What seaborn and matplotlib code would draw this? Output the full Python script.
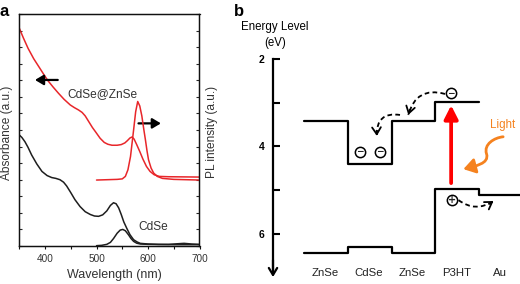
import matplotlib
matplotlib.use("Agg")
import numpy as np
import matplotlib.pyplot as plt
import seaborn as sns
from matplotlib.ticker import MultipleLocator, NullFormatter, FixedLocator
from matplotlib.patches import FancyArrowPatch, PathPatch
from matplotlib.path import Path

# ---------------- Panel a data ----------------
wl_cdse_abs = [350, 355, 361, 367, 374, 384, 394, 404, 413, 421, 429, 436, 442, 450, 458, 468,
               478, 488, 496, 504, 512, 520, 527, 533, 538, 543, 548, 553, 559, 565, 572, 579,
               585, 600, 620, 640, 655, 670, 685, 700]
abs_cdse = [6.70, 6.55, 6.29, 5.95, 5.49, 4.95, 4.50, 4.25, 4.13, 4.08, 4.00, 3.85, 3.62, 3.22,
            2.80, 2.38, 2.07, 1.90, 1.81, 1.79, 1.88, 2.12, 2.45, 2.61, 2.55, 2.30, 1.90, 1.45,
            1.05, 0.68, 0.38, 0.24, 0.16, 0.12, 0.10, 0.10, 0.13, 0.16, 0.12, 0.10]

wl_cdse_pl = [500, 510, 520, 527, 533, 540, 546, 551, 556, 562, 567, 572, 578, 585, 600, 620,
              650, 700]
pl_cdse = [0.02, 0.04, 0.10, 0.22, 0.45, 0.77, 0.96, 1.00, 0.92, 0.68, 0.45, 0.28, 0.17, 0.12,
           0.10, 0.09, 0.08, 0.08]

wl_core_shell_abs = [350, 358, 367, 378, 390, 398, 406, 416, 426, 437, 449, 457, 465, 472, 478,
                     485, 492, 499, 507, 515, 522, 530, 540, 548, 555, 560, 565, 569, 573, 578,
                     584, 590, 597, 604, 612, 622, 640, 670, 700]
abs_core_shell = [13.14, 12.55, 11.93, 11.30, 10.72, 10.33, 9.96, 9.58, 9.22, 8.85, 8.51, 8.35,
                  8.21, 8.06, 7.85, 7.50, 7.15, 6.85, 6.50, 6.25, 6.14, 6.08, 6.08, 6.12, 6.22,
                  6.36, 6.52, 6.58, 6.45, 6.12, 5.70, 5.25, 4.80, 4.50, 4.30, 4.20, 4.18, 4.17,
                  4.16]

wl_core_shell_pl = [500, 520, 540, 550, 556, 561, 566, 569, 572, 576, 580, 584, 588, 592, 595,
                    598, 601, 606, 611, 618, 628, 650, 700]
pl_core_shell = [3.98, 4.00, 4.02, 4.05, 4.20, 4.60, 5.40, 6.20, 7.00, 8.10, 8.72, 8.45, 7.85,
                 7.00, 6.40, 5.75, 5.20, 4.70, 4.40, 4.20, 4.08, 4.02, 3.98]

x_major_ticks = [400, 500, 600, 700]
x_minor_ticks = [350, 450, 550, 650]

# ---------------- Panel b data ----------------
layer_names = ["ZnSe", "CdSe", "ZnSe", "P3HT", "Au"]
cb_levels = [3.43, 4.41, 3.43, 2.99]          # conduction band / LUMO (eV)
vb_levels = [6.45, 6.30, 6.45, 4.98, 5.11]    # valence band / HOMO / work function (eV)
energy_ticks = [2, 4, 6]
energy_minor = [3, 5]

RED = "#e8262a"
DARK = "#1e1e1e"
ORANGE = "#f5821f"

sns.set_theme(style="ticks")
plt.rcParams['font.family'] = ['Liberation Sans', 'DejaVu Sans']

W, H = 520, 284
fig = plt.figure(figsize=(W / 100, H / 100), dpi=100)


def fx(px):
    return px / W


def fy(py):
    return 1 - py / H


# ================= Panel a =================
a_left, a_right, a_top, a_bot = 19.3, 199.5, 14, 246
ax = fig.add_axes([fx(a_left), fy(a_bot), (a_right - a_left) / W, (a_bot - a_top) / H])
ax2 = ax.twinx()

sns.lineplot(x=wl_core_shell_abs, y=abs_core_shell, ax=ax, color=RED, lw=1.1,
             estimator=None, sort=False)
sns.lineplot(x=wl_cdse_abs, y=abs_cdse, ax=ax, color=DARK, lw=1.1,
             estimator=None, sort=False)
sns.lineplot(x=wl_core_shell_pl, y=pl_core_shell, ax=ax2, color=RED, lw=1.1,
             estimator=None, sort=False)
sns.lineplot(x=wl_cdse_pl, y=pl_cdse, ax=ax2, color=DARK, lw=1.1,
             estimator=None, sort=False)

for a in (ax, ax2):
    a.set_xlim(350, 700)
    a.set_ylim(0, 14)
    a.yaxis.set_major_locator(MultipleLocator(1))
    a.yaxis.set_major_formatter(NullFormatter())
    a.set_ylabel("")
    for s in a.spines.values():
        s.set_linewidth(0.9)
        s.set_color("#111111")
        s.set_visible(True)

ax.xaxis.set_major_locator(FixedLocator(x_major_ticks))
ax.xaxis.set_minor_locator(FixedLocator(x_minor_ticks))
ax.set_xticklabels([str(t) for t in x_major_ticks])
ax.tick_params(axis="x", which="both", direction="out", length=2.5, width=0.8,
               bottom=True, top=False, labelsize=7.2, pad=3.5, colors="#111111",
               labelcolor="#333333")
ax.tick_params(axis="y", which="both", direction="in", length=2.5, width=0.8,
               left=True, right=False, labelleft=False)
ax2.tick_params(axis="y", which="both", direction="in", length=2.5, width=0.8,
                left=False, right=True, labelright=False)
ax.set_xlabel("")

ax.text((114 - a_left) / (a_right - a_left), (a_bot - 275) / (a_bot - a_top), "Wavelength (nm)",
        transform=ax.transAxes, ha="center", va="center", fontsize=9, color="#333333")
ax.text((6.7 - a_left) / (a_right - a_left), (a_bot - 132.5) / (a_bot - a_top), "Absorbance (a.u.)",
        transform=ax.transAxes, ha="center", va="center", rotation=90, fontsize=8.6,
        color="#333333")
ax.text((211.7 - a_left) / (a_right - a_left), (a_bot - 131.7) / (a_bot - a_top), "PL intensity (a.u.)",
        transform=ax.transAxes, ha="center", va="center", rotation=90, fontsize=8.6,
        color="#333333")

ax.text(511.9, 9.17, "CdSe@ZnSe", ha="center", va="center", fontsize=8.6, color="#333333")
ax.text(610.7, 1.16, "CdSe", ha="center", va="center", fontsize=8.6, color="#333333")

ax.annotate("", xy=(380.5, 10.02), xytext=(424.7, 10.02),
            arrowprops=dict(arrowstyle="-|>,head_length=0.5,head_width=0.3", lw=1.6,
                            color="black", mutation_scale=10, shrinkA=0, shrinkB=0))
ax.annotate("", xy=(625, 7.40), xytext=(581.5, 7.40),
            arrowprops=dict(arrowstyle="-|>,head_length=0.5,head_width=0.3", lw=1.6,
                            color="black", mutation_scale=10, shrinkA=0, shrinkB=0))

fig.text(fx(4), fy(12), "a", fontsize=12, fontweight="bold", ha="center", va="center",
         color="black")

# ================= Panel b =================
UNIT = 43.7          # px per layer and per eV
X0 = 304.3           # px of first layer edge
E2_PX = 59.0         # px of E = 2 eV
b_left, b_bot = 273.0, 277.0
axb = fig.add_axes([fx(b_left), fy(b_bot), (W - b_left) / W, (b_bot - E2_PX) / H])
xmin = (b_left - X0) / UNIT
axb.set_xlim(xmin, (W - X0) / UNIT)
axb.set_ylim(2 + (b_bot - E2_PX) / UNIT, 2)

cb_x = list(range(len(cb_levels) + 1))
cb_y = cb_levels + [cb_levels[-1]]
vb_x = list(range(len(vb_levels) + 1))
vb_y = vb_levels + [vb_levels[-1]]
sns.lineplot(x=cb_x, y=cb_y, ax=axb, drawstyle="steps-post", color="black", lw=1.6,
             estimator=None, sort=False)
sns.lineplot(x=vb_x, y=vb_y, ax=axb, drawstyle="steps-post", color="black", lw=1.6,
             estimator=None, sort=False)
axb.set_xlim(xmin, (W - X0) / UNIT)
axb.set_ylim(2 + (b_bot - E2_PX) / UNIT, 2)

for side in ("top", "right", "bottom"):
    axb.spines[side].set_visible(False)
axb.spines["left"].set_linewidth(1.6)
axb.spines["left"].set_color("black")
axb.spines["left"].set_bounds(2, 6.85)
axb.set_xticks([])
axb.set_xlabel("")
axb.set_ylabel("")
axb.yaxis.set_major_locator(FixedLocator(energy_ticks))
axb.yaxis.set_minor_locator(FixedLocator(energy_minor))
axb.set_yticklabels([str(t) for t in energy_ticks])
axb.tick_params(axis="y", which="both", direction="in", length=5, width=1.5, left=True,
                labelsize=7.5, pad=6, colors="black")
for lbl in axb.get_yticklabels():
    lbl.set_fontweight("bold")
axb.annotate("", xy=(xmin, 6.99), xytext=(xmin, 6.6),
             arrowprops=dict(arrowstyle="->,head_length=0.5,head_width=0.3", lw=1.6,
                             color="black", mutation_scale=10, shrinkA=0, shrinkB=0),
             annotation_clip=False)

# layer labels
for i, name in enumerate(layer_names):
    axb.text(i + 0.48, 6.89, name, ha="center", va="center", fontsize=8.2, color="#222222")

# light absorption arrow in P3HT
axb.annotate("", xy=(3.36, 3.06), xytext=(3.36, 4.84),
             arrowprops=dict(arrowstyle="-|>,head_length=0.65,head_width=0.33", lw=2.7,
                             color="#ff0000", mutation_scale=12.5, shrinkA=0, shrinkB=0))

# charges
minus_x = [3.35, 1.27, 1.73]
minus_e = [2.78, 4.12, 4.12]
plus_x = [3.38]
plus_e = [5.23]
sns.scatterplot(x=minus_x + plus_x, y=minus_e + plus_e, ax=axb, s=55, color="white",
                edgecolor="black", linewidth=1.1, zorder=6)
for x, e in zip(minus_x, minus_e):
    axb.text(x, e, "\u2212", ha="center", va="center", fontsize=6.5, fontweight="bold",
             zorder=7, family="DejaVu Sans")
for x, e in zip(plus_x, plus_e):
    axb.text(x, e, "+", ha="center", va="center", fontsize=7, fontweight="bold", zorder=7,
             family="DejaVu Sans")


def dashed_arrow(start, end, rad):
    sx, se = start
    ex, ee = end
    mx, me = (sx + ex) / 2, (se + ee) / 2
    dx, de = ex - sx, ee - se
    c = (mx - rad * de, me + rad * dx)
    path = Path([start, c, end], [Path.MOVETO, Path.CURVE3, Path.CURVE3])
    axb.add_patch(PathPatch(path, fill=False, lw=1.3, ls=(0, (2.6, 1.8)), color="black"))
    t = np.array(end) - np.array(c)
    t = t / np.hypot(*t)
    tail = np.array(end) - 0.12 * t
    axb.annotate("", xy=end, xytext=tuple(tail),
                 arrowprops=dict(arrowstyle="->,head_length=0.55,head_width=0.35", lw=1.3,
                                 color="black", mutation_scale=9, shrinkA=0, shrinkB=0))


dashed_arrow((3.22, 2.80), (2.38, 3.28), 0.5)
dashed_arrow((2.19, 3.28), (1.66, 3.76), 0.6)
dashed_arrow((3.53, 5.23), (4.33, 5.25), 0.35)

# light
axb.text(4.53, 3.51, "Light", ha="center", va="center", fontsize=8.3, color=ORANGE)
light_path = Path([(4.55, 3.78), (4.35, 3.80), (4.10, 3.95), (4.17, 4.17),
                   (4.24, 4.40), (3.90, 4.45), (3.64, 4.52)],
                  [Path.MOVETO, Path.CURVE4, Path.CURVE4, Path.CURVE4,
                   Path.CURVE4, Path.CURVE4, Path.CURVE4])
axb.add_patch(FancyArrowPatch(path=light_path,
                              arrowstyle="-|>,head_length=0.7,head_width=0.45",
                              mutation_scale=10, lw=2.0, color=ORANGE))

fig.text(fx(239), fy(11), "b", fontsize=12, fontweight="bold", ha="center", va="center",
         color="black")
fig.text(fx(274.5), fy(26.7), "Energy Level", fontsize=8.3, ha="center", va="center",
         color="black")
fig.text(fx(275), fy(42.7), "(eV)", fontsize=8.3, ha="center", va="center", color="black")

fig.savefig("out.png", dpi=100)
